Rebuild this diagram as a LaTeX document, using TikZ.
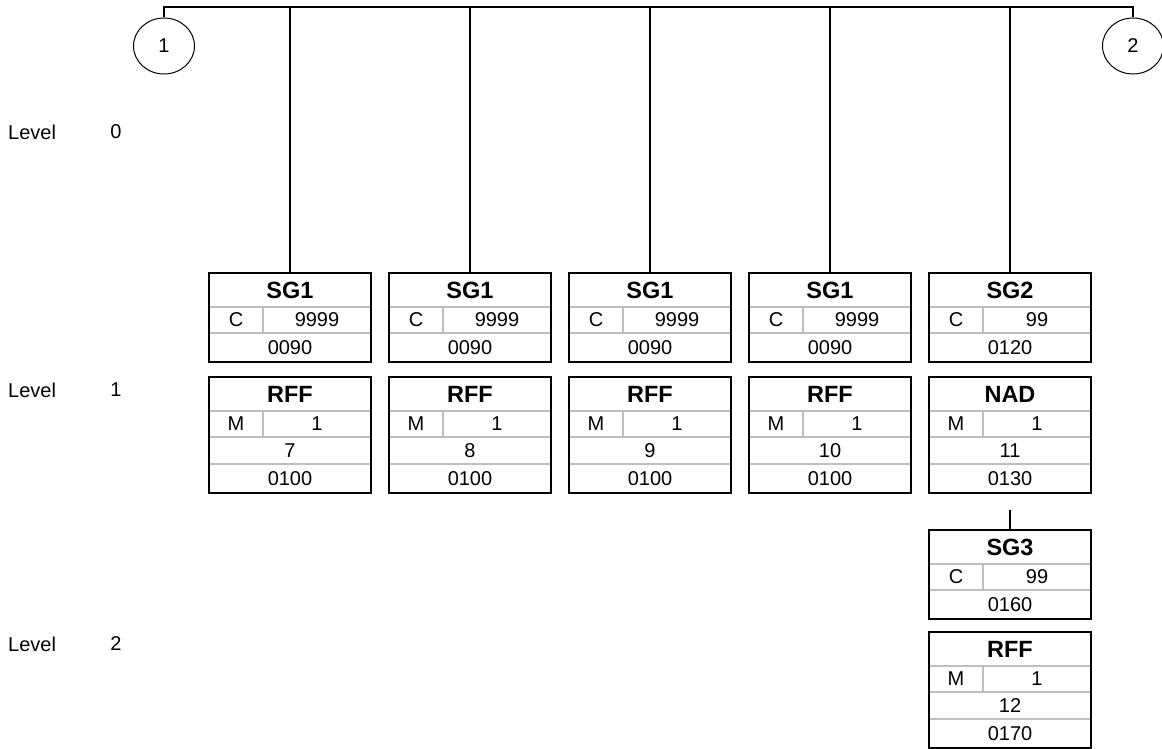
\documentclass[tikz,border=0pt]{standalone}
\usepackage{fontspec}
\setmainfont{Liberation Sans}
\usetikzlibrary{calc,shapes.geometric}
\tikzset{
 boxframe/.style={draw=black, line width=2pt, minimum width=162pt, anchor=north, inner sep=0pt, outer sep=0pt},
 sepline/.style={draw=black!25, line width=1.4pt},
 conn/.style={draw=black, line width=2pt},
 ttl/.style={font=\fontsize{23.5}{23.5}\selectfont\bfseries, inner sep=0pt},
 txt/.style={font=\fontsize{20}{20}\selectfont, inner sep=0pt},
 lvl/.style={font=\fontsize{20}{20}\selectfont, inner sep=0pt},
 endcirc/.style={draw=black, line width=1pt, ellipse, minimum width=61pt, minimum height=56pt, inner sep=0pt, font=\fontsize{20}{20}\selectfont},
}
% group box: name, x, top, title, status, repeat, number
\newcommand{\grpbox}[7]{%
 \node[boxframe, minimum height=89pt] (#1) at (#2,#3) {};
 \draw[sepline] ([xshift=1pt,yshift=-34pt]#1.north west) -- ([xshift=-1pt,yshift=-34pt]#1.north east);
 \draw[sepline] ([xshift=1pt,yshift=-60pt]#1.north west) -- ([xshift=-1pt,yshift=-60pt]#1.north east);
 \draw[sepline] ([xshift=54pt,yshift=-34pt]#1.north west) -- ([xshift=54pt,yshift=-60pt]#1.north west);
 \node[ttl] (#1t) at ([yshift=-17pt]#1.north) {#4};
 \node[txt] (#1s) at ([xshift=27pt,yshift=-47pt]#1.north west) {#5};
 \node[txt] (#1r) at ([xshift=108pt,yshift=-47pt]#1.north west) {#6};
 \node[txt] (#1n) at ([yshift=-74.5pt]#1.north) {#7};
}
% segment box: name, x, top, title, status, repeat, position, number
\newcommand{\segbox}[8]{%
 \node[boxframe, minimum height=116pt] (#1) at (#2,#3) {};
 \draw[sepline] ([xshift=1pt,yshift=-34pt]#1.north west) -- ([xshift=-1pt,yshift=-34pt]#1.north east);
 \draw[sepline] ([xshift=1pt,yshift=-60pt]#1.north west) -- ([xshift=-1pt,yshift=-60pt]#1.north east);
 \draw[sepline] ([xshift=1pt,yshift=-87pt]#1.north west) -- ([xshift=-1pt,yshift=-87pt]#1.north east);
 \draw[sepline] ([xshift=54pt,yshift=-34pt]#1.north west) -- ([xshift=54pt,yshift=-60pt]#1.north west);
 \node[ttl] (#1t) at ([yshift=-17pt]#1.north) {#4};
 \node[txt] (#1s) at ([xshift=27pt,yshift=-47pt]#1.north west) {#5};
 \node[txt] (#1r) at ([xshift=108pt,yshift=-47pt]#1.north west) {#6};
 \node[txt] (#1p) at ([yshift=-73.5pt]#1.north) {#7};
 \node[txt] (#1n) at ([yshift=-101.5pt]#1.north) {#8};
}
\begin{document}
\begin{tikzpicture}[x=1pt,y=-1pt]
\useasboundingbox (0,0) rectangle (1162,749);
% level labels
\node[lvl, anchor=west] (lv0) at (8,132) {Level};
\node[lvl] (lv0n) at (116,132) {0};
\node[lvl, anchor=west] (lv1) at (8,390) {Level};
\node[lvl] (lv1n) at (116,390) {1};
\node[lvl, anchor=west] (lv2) at (8,644) {Level};
\node[lvl] (lv2n) at (116,644) {2};
% end circles and top line
\node[endcirc] (c1) at (164,46) {1};
\node[endcirc] (c2) at (1133,46) {2};
\coordinate (topl) at (0,7);
\draw[conn] (c1.north) -- (c1.north |- topl) -- (c2.north |- topl) -- (c2.north);
% level 1 boxes
\grpbox{sga}{290}{273}{SG1}{C}{9999}{0090}
\grpbox{sgb}{470}{273}{SG1}{C}{9999}{0090}
\grpbox{sgc}{650}{273}{SG1}{C}{9999}{0090}
\grpbox{sgd}{830}{273}{SG1}{C}{9999}{0090}
\grpbox{sge}{1010}{273}{SG2}{C}{99}{0120}
\segbox{rfa}{290}{377}{RFF}{M}{1}{7}{0100}
\segbox{rfb}{470}{377}{RFF}{M}{1}{8}{0100}
\segbox{rfc}{650}{377}{RFF}{M}{1}{9}{0100}
\segbox{rfd}{830}{377}{RFF}{M}{1}{10}{0100}
\segbox{nad}{1010}{377}{NAD}{M}{1}{11}{0130}
% level 2 boxes
\grpbox{sgf}{1010}{530}{SG3}{C}{99}{0160}
\segbox{rfe}{1010}{632}{RFF}{M}{1}{12}{0170}
% connectors
\foreach \b in {sga,sgb,sgc,sgd,sge}{
 \draw[conn] (\b.north |- topl) -- (\b.north);
}
\draw[conn] ([yshift=-17pt]nad.south) -- (sgf.north);
\end{tikzpicture}
\end{document}
